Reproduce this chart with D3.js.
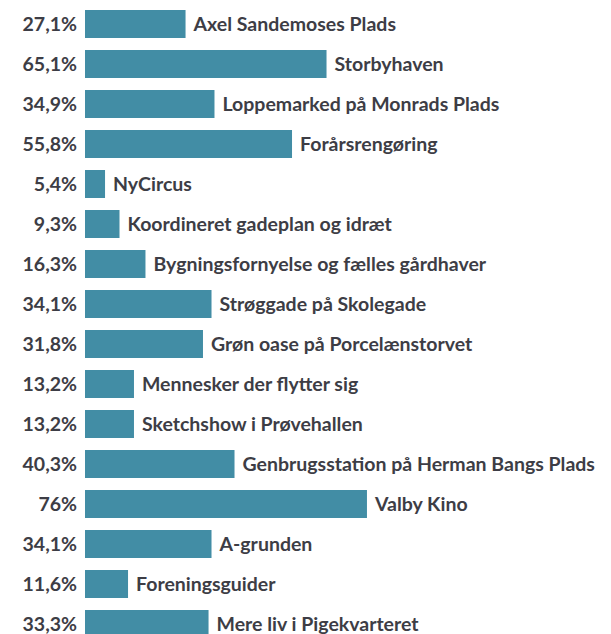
<!DOCTYPE html>
<html>
<head>
<meta charset="utf-8">
<script src="https://cdn.jsdelivr.net/npm/d3@7"></script>
<style>
  html, body { margin: 0; padding: 0; background: #fff; overflow: hidden; }
</style>
</head>
<body>
<div id="chart"></div>
<script>
// data
var categories = [
  "Axel Sandemoses Plads", "Storbyhaven", "Loppemarked på Monrads Plads",
  "Forårsrengøring", "NyCircus", "Koordineret gadeplan og idræt",
  "Bygningsfornyelse og fælles gårdhaver", "Strøggade på Skolegade",
  "Grøn oase på Porcelænstorvet", "Mennesker der flytter sig",
  "Sketchshow i Prøvehallen", "Genbrugsstation på Herman Bangs Plads",
  "Valby Kino", "A-grunden", "Foreningsguider", "Mere liv i Pigekvarteret"
];
var values = [27.1, 65.1, 34.9, 55.8, 5.4, 9.3, 16.3, 34.1, 31.8, 13.2, 13.2, 40.3, 76, 34.1, 11.6, 33.3];
var valueLabels = ["27,1%", "65,1%", "34,9%", "55,8%", "5,4%", "9,3%", "16,3%", "34,1%",
  "31,8%", "13,2%", "13,2%", "40,3%", "76%", "34,1%", "11,6%", "33,3%"];

var width = 611,
    height = 634,
    marginLeft = 85,
    marginTop = 4;

var svg = d3.select("#chart").append("svg")
    .attr("width", width)
    .attr("height", height);

var x = d3.scaleLinear().domain([0, 100]).range([0, 371]);
var y = d3.scaleBand()
    .domain(categories)
    .range([marginTop, marginTop + 40 * categories.length])
    .paddingInner(0.3)
    .paddingOuter(0.15);

var rows = svg.selectAll(".row")
    .data(categories)
    .enter()
    .append("g")
    .attr("class", "row")
    .attr("transform", function(d) { return "translate(" + marginLeft + "," + y(d) + ")"; });

rows.append("rect")
    .attr("x", 0)
    .attr("y", 0)
    .attr("width", function(d, i) { return x(values[i]); })
    .attr("height", y.bandwidth())
    .attr("fill", "#428da5");

// procent til venstre for bjælken
rows.append("text")
    .attr("x", -8)
    .attr("y", y.bandwidth() / 2)
    .attr("dy", "0.36em")
    .attr("text-anchor", "end")
    .style("font-family", "Lato")
    .style("font-weight", "bold")
    .style("font-size", "19.5px")
    .attr("fill", "#3d3d45")
    .text(function(d, i) { return valueLabels[i]; });

// navn til højre for bjælken
rows.append("text")
    .attr("x", function(d, i) { return x(values[i]) + 8; })
    .attr("y", y.bandwidth() / 2)
    .attr("dy", "0.36em")
    .style("font-family", "Lato")
    .style("font-weight", "bold")
    .style("font-size", "19.5px")
    .attr("fill", "#3d3d45")
    .text(function(d) { return d; });
</script>
</body>
</html>
